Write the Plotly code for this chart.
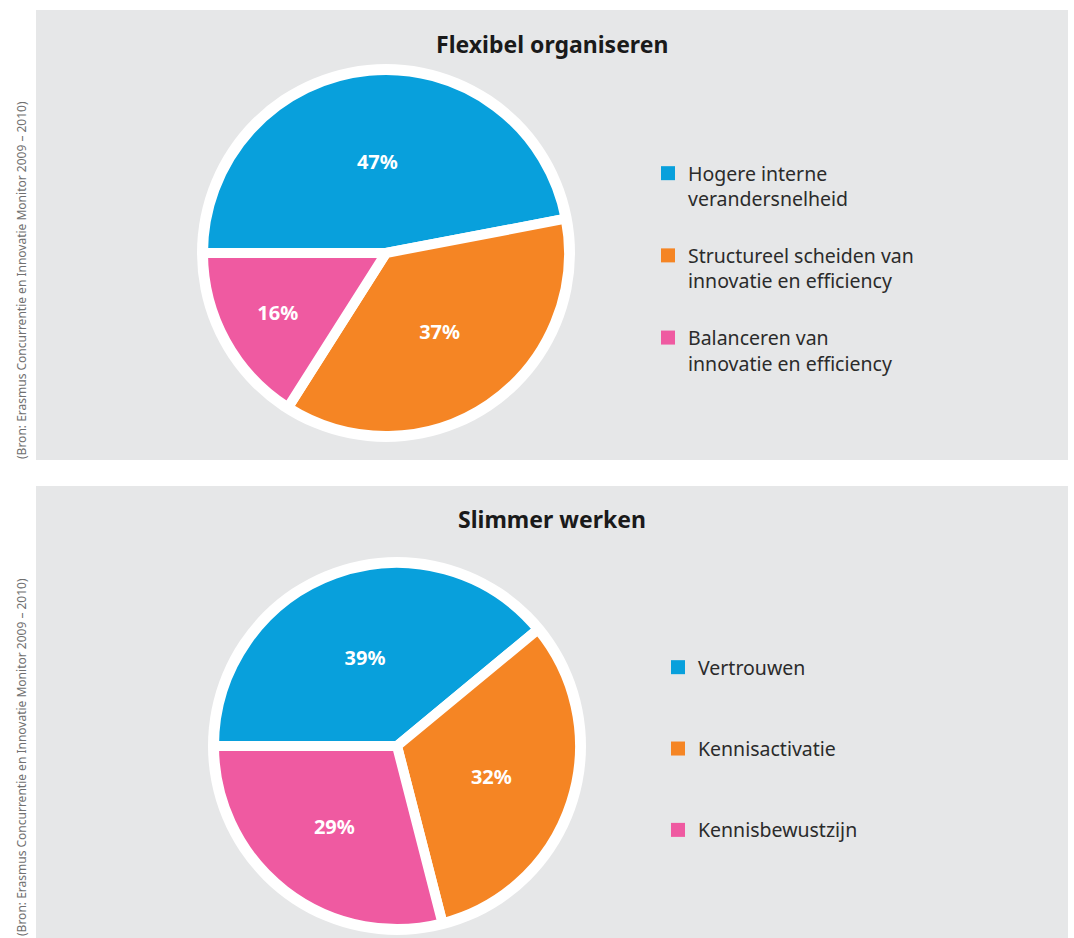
import plotly.graph_objects as go

W, H = 1074, 938

# ---- data ----
title1 = "Flexibel organiseren"
labels1 = ["Hogere interne<br>verandersnelheid",
           "Structureel scheiden van<br>innovatie en efficiency",
           "Balanceren van<br>innovatie en efficiency"]
values1 = [47, 37, 16]

title2 = "Slimmer werken"
labels2 = ["Vertrouwen", "Kennisactivatie", "Kennisbewustzijn"]
values2 = [39, 32, 29]

source = "(Bron: Erasmus Concurrentie en Innovatie Monitor 2009 \u2013 2010)"

colors = ["#08a0dc", "#f58524", "#ef5aa1"]
panel_bg = "#e6e7e8"
FONT = "Noto Sans"


def px_x(x):
    return x / W


def px_y(y):
    return 1 - y / H


# geometry (pixels)
pies = [
    dict(cx=386, cy=253, r=183, labels=labels1, values=values1, legend="legend", g="a"),
    dict(cx=397, cy=746, r=183, labels=labels2, values=values2, legend="legend2", g="b"),
]

fig = go.Figure()
for p in pies:
    fig.add_trace(go.Pie(
        labels=p["labels"],
        values=p["values"],
        sort=False,
        direction="clockwise",
        rotation=-90,
        marker=dict(colors=colors, line=dict(color="white", width=10)),
        textinfo="percent",
        textposition="inside",
        insidetextorientation="horizontal",
        textfont=dict(family=FONT, size=20, color="white", weight="bold"),
        hoverinfo="skip",
        showlegend=False,
        domain=dict(x=[px_x(p["cx"] - p["r"]), px_x(p["cx"] + p["r"])],
                    y=[px_y(p["cy"] + p["r"]), px_y(p["cy"] - p["r"])]),
    ))
    # legend entries (one per slice, same labels and colours)
    for i, (lab, col) in enumerate(zip(p["labels"], colors)):
        fig.add_trace(go.Scatter(
            x=[None], y=[None], mode="markers", name=lab,
            marker=dict(symbol="square", size=14, color=col, line=dict(width=0)),
            legend=p["legend"], legendgroup=f"{p['g']}{i}", showlegend=True,
            hoverinfo="skip",
        ))

shapes = [
    dict(type="rect", xref="paper", yref="paper", x0=px_x(36), x1=px_x(1068),
         y0=px_y(460), y1=px_y(10), fillcolor=panel_bg, line=dict(width=0), layer="below"),
    dict(type="rect", xref="paper", yref="paper", x0=px_x(36), x1=px_x(1068),
         y0=px_y(940), y1=px_y(486), fillcolor=panel_bg, line=dict(width=0), layer="below"),
]
for p in pies:
    R = p["r"] + 6
    shapes.append(dict(type="circle", xref="paper", yref="paper",
                       x0=px_x(p["cx"] - R), x1=px_x(p["cx"] + R),
                       y0=px_y(p["cy"] + R), y1=px_y(p["cy"] - R),
                       fillcolor="white", line=dict(width=0), layer="below"))

annotations = [
    dict(text=f"<b>{title1}</b>", x=px_x(552), y=px_y(44), xref="paper", yref="paper",
         xanchor="center", yanchor="middle",
         showarrow=False, font=dict(family=FONT, size=23, color="#1a1a1a")),
    dict(text=f"<b>{title2}</b>", x=px_x(552), y=px_y(519), xref="paper", yref="paper",
         xanchor="center", yanchor="middle",
         showarrow=False, font=dict(family=FONT, size=23, color="#1a1a1a")),
    dict(text=source, x=px_x(21), y=px_y(280), xref="paper", yref="paper", textangle=-90,
         xanchor="center", yanchor="middle",
         showarrow=False, font=dict(family=FONT, size=12, color="#707070")),
    dict(text=source, x=px_x(21), y=px_y(757), xref="paper", yref="paper", textangle=-90,
         xanchor="center", yanchor="middle",
         showarrow=False, font=dict(family=FONT, size=12, color="#707070")),
]

legend_common = dict(font=dict(family=FONT, size=19.5, color="#2b2b2b"),
                     bgcolor="rgba(0,0,0,0)", valign="top", xanchor="left", yanchor="top",
                     xref="paper", yref="paper")

fig.update_layout(
    width=W, height=H,
    margin=dict(l=0, r=0, t=0, b=0),
    paper_bgcolor="white",
    plot_bgcolor="rgba(0,0,0,0)",
    xaxis=dict(visible=False),
    yaxis=dict(visible=False),
    shapes=shapes,
    annotations=annotations,
    legend=dict(x=px_x(648), y=px_y(154), tracegroupgap=28.5, **legend_common),
    legend2=dict(x=px_x(658), y=px_y(648), tracegroupgap=53, **legend_common),
    showlegend=True,
)

fig.write_html("out.html", config={"displayModeBar": False},
               post_script="document.body.style.margin='0px';")
